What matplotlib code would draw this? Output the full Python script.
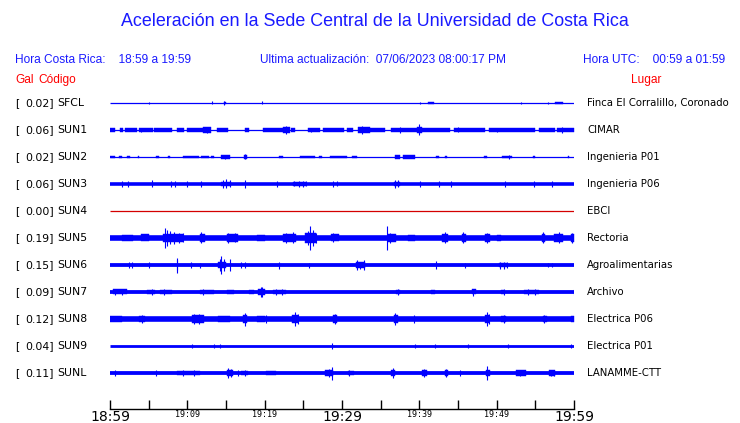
import matplotlib
matplotlib.use("Agg")
import matplotlib.pyplot as plt

# ---------- data (minutes after 18:59, amplitudes as half height in px) ----------
stations = ["SFCL", "SUN1", "SUN2", "SUN3", "SUN4", "SUN5",
            "SUN6", "SUN7", "SUN8", "SUN9", "SUNL"]
peak_gal = [0.02, 0.06, 0.02, 0.06, 0.00, 0.19, 0.15, 0.09, 0.12, 0.04, 0.11]
places = ["Finca El Corralillo, Coronado", "CIMAR", "Ingenieria P01",
          "Ingenieria P06", "EBCI", "Rectoria", "Agroalimentarias",
          "Archivo", "Electrica P06", "Electrica P01", "LANAMME-CTT"]

base_half = [0.5, 0.6, 0.5, 1.8, 0.5, 2.8, 1.9, 1.9, 2.8, 1.4, 1.9]

# noisy stretches: (start, end, half height)
seg_sfcl = [(14.7, 15.0, 1.3), (41.1, 41.9, 1.2), (57.5, 58.6, 1.4)]
seg_sun1 = [(0.0, 0.6, 1.8), (1.3, 1.7, 1.8), (1.9, 3.5, 1.8), (3.7, 5.5, 1.8),
            (5.7, 8.0, 1.8), (8.6, 9.6, 1.8), (9.9, 12.0, 1.8), (12.0, 13.1, 2.6),
            (13.8, 15.3, 1.8), (17.5, 18.0, 1.8), (19.8, 22.4, 1.8), (22.4, 23.3, 3.0),
            (23.4, 23.9, 1.8), (25.6, 27.2, 1.8), (27.6, 30.2, 1.8), (30.6, 31.4, 1.8),
            (32.1, 33.6, 2.6), (33.6, 35.6, 1.8), (36.4, 39.7, 1.9), (39.7, 40.3, 3.2),
            (40.3, 44.0, 1.8), (44.5, 48.5, 1.8), (49.0, 55.0, 1.8), (55.5, 57.5, 1.8),
            (57.8, 60.0, 2.2)]
seg_sun2 = [(0.0, 0.6, 1.3), (1.1, 1.5, 1.3), (2.2, 2.6, 1.3), (3.6, 3.8, 1.3),
            (6.0, 6.3, 1.3), (7.5, 7.8, 1.3), (9.5, 11.5, 1.3), (11.8, 12.8, 1.3),
            (13.0, 13.5, 1.3), (14.4, 15.5, 1.8), (17.3, 17.7, 1.8), (21.8, 22.4, 1.3),
            (24.6, 26.5, 1.3), (27.0, 27.4, 1.3), (28.4, 30.6, 1.3), (31.3, 32.0, 1.3),
            (36.9, 37.5, 1.7), (37.9, 39.4, 1.7), (42.2, 42.6, 1.3), (43.3, 43.6, 1.3),
            (48.3, 48.7, 1.3), (50.7, 52.0, 1.3), (54.7, 54.9, 1.3), (59.2, 59.4, 1.3)]
seg_sun3 = [(14.4, 15.6, 2.4), (23.7, 25.4, 2.2), (36.7, 37.5, 2.4)]
seg_sun4 = []
seg_sun5 = [(1.5, 3.0, 3.3), (4.0, 5.0, 3.5), (6.9, 9.5, 4.3), (11.6, 12.3, 4.3),
            (15.1, 16.6, 3.8), (19.0, 20.0, 3.3), (22.4, 24.1, 4.2), (25.2, 26.7, 4.6),
            (28.6, 29.6, 3.5), (35.9, 37.0, 3.6), (38.5, 39.5, 3.4), (42.9, 43.7, 4.2),
            (45.5, 46.0, 4.2), (48.5, 49.1, 3.8), (50.0, 50.6, 3.4), (55.8, 56.3, 4.2),
            (57.4, 58.6, 4.2), (59.6, 60.0, 4.2)]
seg_sun6 = [(14.0, 15.0, 2.8), (31.8, 33.0, 2.6), (50.3, 51.4, 2.4)]
seg_sun7 = [(0.4, 2.2, 2.5), (4.8, 5.8, 2.3), (6.5, 8.0, 2.3), (11.6, 13.4, 2.4),
            (15.1, 16.0, 2.3), (18.0, 18.6, 2.3), (19.2, 20.0, 2.7), (21.1, 22.8, 2.4),
            (37.0, 37.5, 2.4), (41.5, 42.0, 2.4), (46.8, 47.3, 2.5), (50.5, 51.0, 2.3),
            (53.5, 55.5, 2.3)]
seg_sun8 = [(0.0, 1.5, 3.2), (3.8, 4.5, 3.4), (10.6, 12.1, 3.8), (14.0, 15.5, 3.3),
            (17.2, 17.7, 3.8), (19.0, 20.0, 3.2), (23.5, 24.3, 4.2), (28.9, 29.3, 3.8),
            (36.7, 37.2, 3.8), (48.5, 49.0, 4.2), (50.6, 51.2, 3.4), (56.0, 56.5, 3.2),
            (59.6, 60.0, 3.4)]
seg_sun9 = []
seg_sunl = [(8.6, 11.6, 2.3), (15.1, 15.9, 3.0), (17.0, 17.8, 2.4), (20.2, 21.5, 2.3),
            (27.8, 28.9, 2.7), (30.8, 31.5, 2.3), (36.4, 36.9, 2.9), (40.3, 41.0, 2.9),
            (43.3, 43.7, 2.7), (48.6, 49.1, 2.9), (52.5, 53.8, 2.6), (56.8, 57.5, 2.5)]

# single spikes: (minute, half height)
spk_sfcl = [(5.0, 1.3), (13.2, 1.5), (14.8, 2.0), (19.7, 1.5), (40.1, 1.3),
            (53.1, 1.2), (56.6, 1.2)]
spk_sun1 = [(4.0, 2.2), (12.5, 3.0), (22.8, 4.2), (26.0, 2.2), (32.6, 4.0),
            (37.5, 3.0), (40.0, 5.5), (45.0, 2.5), (50.0, 2.2), (58.5, 3.0)]
spk_sun2 = [(14.9, 2.3), (17.5, 2.5), (51.6, 2.2)]
spk_sun3 = [(1.5, 3.0), (2.3, 3.0), (5.4, 3.5), (7.9, 3.0), (8.4, 3.0), (9.9, 3.3),
            (11.8, 2.8), (14.6, 4.0), (15.0, 4.5), (15.5, 3.5), (17.5, 3.8), (21.6, 3.3),
            (23.8, 2.5), (24.4, 3.0), (25.0, 3.2), (25.4, 2.5), (28.9, 3.0), (29.3, 2.5),
            (36.9, 4.2), (37.3, 3.5), (40.1, 3.0), (42.6, 2.8), (44.1, 2.8), (51.1, 3.0),
            (54.8, 3.2), (57.2, 2.8)]
spk_sun4 = []
spk_sun5 = [(7.1, 10.0), (7.4, 8.0), (7.8, 6.5), (8.3, 6.0), (8.9, 5.0), (9.5, 4.5),
            (11.8, 5.5), (15.3, 5.0), (16.2, 4.5), (22.8, 5.0), (23.6, 5.5), (25.6, 7.0),
            (25.9, 12.0), (26.2, 8.0), (26.6, 5.0), (28.9, 4.5), (35.8, 12.0), (36.2, 5.0),
            (43.3, 5.5), (45.7, 5.5), (48.8, 5.2), (56.0, 5.5), (58.0, 5.5), (59.8, 5.0)]
spk_sun6 = [(2.4, 2.8), (2.8, 2.6), (5.0, 3.0), (8.6, 5.0), (8.7, 7.5), (10.5, 3.0),
            (11.6, 2.5), (14.2, 6.0), (14.4, 9.0), (14.7, 6.0), (15.5, 6.0), (17.0, 3.0),
            (17.5, 3.3), (21.8, 3.5), (25.7, 2.5), (31.9, 5.5), (32.3, 3.5), (32.8, 5.0),
            (42.2, 4.0), (45.9, 2.5), (50.4, 3.5), (50.9, 3.5), (51.3, 3.0), (56.6, 2.2),
            (57.2, 2.2)]
spk_sun7 = [(0.6, 3.0), (1.5, 3.0), (5.4, 3.2), (7.0, 3.0), (12.0, 3.0), (19.5, 5.0),
            (19.7, 5.5), (21.5, 3.2), (22.2, 3.0), (37.2, 3.2), (47.0, 3.5), (51.0, 3.0),
            (54.0, 3.0), (55.0, 3.0), (60.0, 3.0)]
spk_sun8 = [(4.1, 4.2), (10.9, 5.0), (11.5, 4.8), (17.4, 6.5), (20.2, 4.0), (23.9, 7.0),
            (24.3, 5.0), (29.1, 5.0), (36.9, 6.0), (39.3, 4.5), (48.7, 7.0), (49.0, 5.0),
            (50.9, 4.2), (56.1, 3.8)]
spk_sun9 = [(10.6, 2.2), (13.4, 2.0), (14.2, 2.0), (28.7, 2.6), (39.4, 2.0), (42.0, 2.0),
            (46.3, 2.0), (51.5, 2.0), (59.6, 2.2)]
spk_sunl = [(0.6, 2.8), (6.0, 2.6), (9.5, 3.0), (10.8, 3.0), (15.3, 5.0), (15.6, 4.5),
            (16.6, 3.2), (17.5, 3.0), (28.3, 4.0), (28.7, 6.5), (30.9, 3.2), (36.6, 5.0),
            (40.6, 4.0), (43.5, 4.0), (45.2, 3.0), (48.8, 7.0), (53.0, 3.0), (57.0, 3.2),
            (57.4, 3.0)]

segments = [seg_sfcl, seg_sun1, seg_sun2, seg_sun3, seg_sun4, seg_sun5,
            seg_sun6, seg_sun7, seg_sun8, seg_sun9, seg_sunl]
spikes = [spk_sfcl, spk_sun1, spk_sun2, spk_sun3, spk_sun4, spk_sun5,
          spk_sun6, spk_sun7, spk_sun8, spk_sun9, spk_sunl]

tick_minutes = list(range(0, 61, 5))
tick_labels = {0: "18:59", 10: "19:09", 20: "19:19", 30: "19:29",
               40: "19:39", 50: "19:49", 60: "19:59"}
big_ticks = [0, 30, 60]

# ---------- figure ----------
W, H = 740, 423
fig = plt.figure(figsize=(W / 100, H / 100), dpi=100)
fig.patch.set_facecolor("white")

blue_txt = "#1a1aff"
red_txt = "#ff0000"
trace_c = "#0000ff"
hdr_font = ["Liberation Sans", "DejaVu Sans"]


def fx(px):
    return px / W


def fy(py):
    return 1 - py / H


fig.text(fx(375), fy(22), "Aceleración en la Sede Central de la Universidad de Costa Rica",
         color=blue_txt, fontsize=12.9, ha="center", va="center", family=hdr_font)
fig.text(fx(15), fy(60), "Hora Costa Rica:    18:59 a 19:59", color=blue_txt,
         fontsize=8.6, ha="left", va="center", family=hdr_font)
fig.text(fx(260), fy(60), "Ultima actualización:  07/06/2023 08:00:17 PM", color=blue_txt,
         fontsize=8.6, ha="left", va="center", family=hdr_font)
fig.text(fx(725), fy(60), "Hora UTC:    00:59 a 01:59", color=blue_txt,
         fontsize=8.6, ha="right", va="center", family=hdr_font)
fig.text(fx(15), fy(80), "Gal", color=red_txt, fontsize=8.6, ha="left", va="center",
         family=hdr_font)
fig.text(fx(38), fy(80), "Código", color=red_txt, fontsize=8.6, ha="left", va="center",
         family=hdr_font)
fig.text(fx(661), fy(80), "Lugar", color=red_txt, fontsize=8.6, ha="right", va="center",
         family=hdr_font)

# trace panel: x 110..574 px, bottom line at 409 px
x0, x1, ybot, ytop = 110, 574, 409, 90
row0, gap = 103, 27
ax = fig.add_axes([fx(x0), fy(ybot), fx(x1 - x0), (ybot - ytop) / H])
ax.set_xlim(0, 60)
ax.set_ylim((ybot - row0) / gap, (ytop - row0) / gap)
for s in ("top", "left", "right"):
    ax.spines[s].set_visible(False)
ax.spines["bottom"].set_linewidth(1.0)
ax.set_yticks([])

for i, st in enumerate(stations):
    c = "#d40000" if peak_gal[i] == 0 else trace_c
    # base trace as a line whose width (points) equals the band thickness
    ax.hlines(i, 0, 60, color=c, linewidth=max(2 * base_half[i] * 0.72, 0.9))
    for t0, t1, h in segments[i]:
        ax.fill_between([t0, t1], i - h / gap, i + h / gap, color=c, linewidth=0.3)
    for t, h in spikes[i]:
        ax.vlines(t, i - h / gap, i + h / gap, color=c, linewidth=0.8)

    y = fy(row0 + gap * i)
    fig.text(fx(15), y, "[", fontsize=7.8, ha="left", va="center", family="DejaVu Sans")
    fig.text(fx(54), y, f"{peak_gal[i]:.2f}]", fontsize=7.8, ha="right", va="center",
             family="DejaVu Sans")
    fig.text(fx(57), y, st, fontsize=7.8, ha="left", va="center", family="DejaVu Sans")
    fig.text(fx(587), y, places[i], fontsize=7.3, ha="left", va="center",
             family="DejaVu Sans")

ax.set_xticks(tick_minutes)
ax.set_xticklabels([tick_labels.get(m, "") for m in tick_minutes])
ax.tick_params(axis="x", direction="in", length=6.5, width=1.0, pad=1)
for m, lab in zip(tick_minutes, ax.get_xticklabels()):
    if m in big_ticks:
        lab.set_fontsize(10)
        lab.set_family("DejaVu Sans")
    else:
        lab.set_fontsize(6)
        lab.set_family("DejaVu Sans Mono")

fig.savefig("out.png", dpi=100)
